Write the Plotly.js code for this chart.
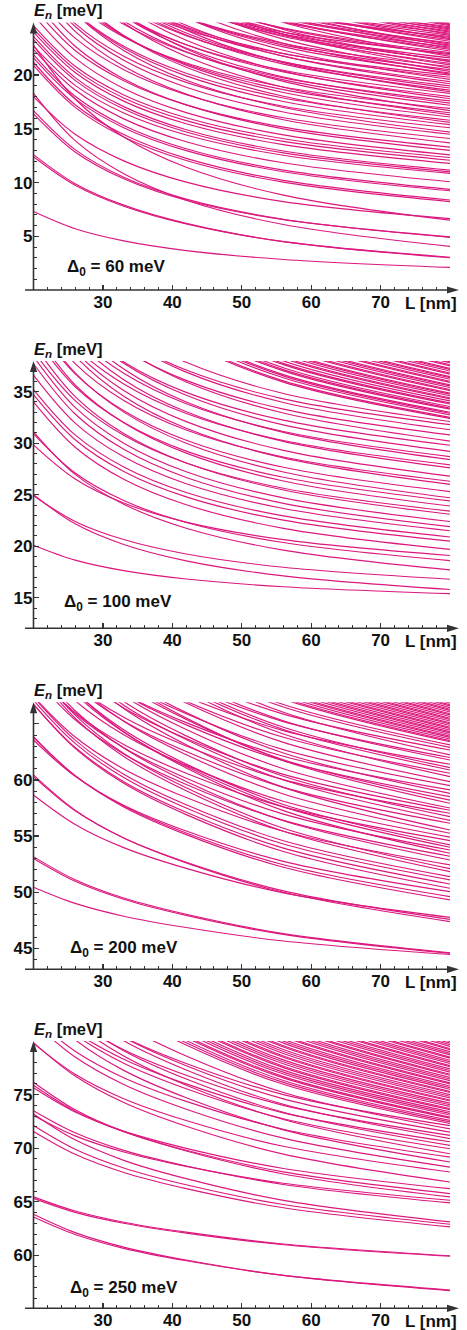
<!DOCTYPE html>
<html><head><meta charset="utf-8">
<script src="https://cdn.plot.ly/plotly-3.0.1.min.js"></script>
<style>html,body{margin:0;padding:0;background:#fff}#plot{width:467px;height:1330px}</style>
</head><body><div id="plot"></div>
<script>
const L = [20, 26, 33, 42, 56, 80];

// Panel 1: Delta0 = 60 meV
const levels60 = [
[7.3,5.70,4.57,3.67,2.84,2.1],[12.6,9.9,7.9,6.2,4.5,3.0],[12.4,9.75,7.8,6.15,4.5,3.05],
[18.3,13.9,10.82,8.36,6.1,4.06],[16.7,13.07,10.5,8.46,6.59,4.9],[16.4,12.85,10.35,8.35,6.55,4.95],
[18.0,14.49,12.02,10.04,8.23,6.65],[22.8,17.78,14.24,11.42,8.83,6.5],[20.9,17.0,14.25,12.06,10.04,8.23],
[21.2,17.25,14.47,12.25,10.21,8.38],[21.6,17.79,15.11,12.97,11.01,9.24],[21.9,18.04,15.32,13.15,11.16,9.37],
[22.4,18.61,15.93,13.8,11.84,10.08],[22.7,19.05,16.48,14.43,12.54,10.85],[23.3,19.51,16.84,14.71,12.76,11.0],
[23.6,19.77,17.07,14.92,12.94,11.16],[24.0,20.24,17.58,15.47,13.53,11.78],[24.3,20.54,17.88,15.77,13.83,12.08],
[24.6,20.82,18.16,16.04,14.08,12.33],[25.58,21.58,18.76,16.51,14.44,12.58],[27.0,22.69,19.65,17.23,15.0,13.0],
[26.3,22.3,19.48,17.23,15.16,13.3],[28.7,24.08,20.83,18.23,15.85,13.7],[27.6,23.44,20.51,18.18,16.03,14.1],
[29.0,24.53,21.39,18.88,16.57,14.5],[30.7,25.77,22.3,19.53,16.99,14.7],[29.1,24.79,21.75,19.33,17.1,15.1],
[30.4,25.78,22.53,19.93,17.55,15.4],[30.3,25.83,22.69,20.18,17.87,15.8],[32.1,27.17,23.7,20.93,18.39,16.1],
[31.5,26.88,23.63,21.03,18.65,16.5],[30.9,26.59,23.55,21.13,18.9,16.9],[33.7,28.62,25.04,22.18,19.56,17.2],
[32.6,27.98,24.73,22.13,19.75,17.6],[34.0,29.07,25.6,22.83,20.29,18.0],[33.3,28.68,25.43,22.83,20.45,18.3],
[35.6,30.36,26.68,23.73,21.03,18.6],[34.5,29.73,26.36,23.68,21.22,19.0],[35.9,30.82,27.24,24.38,21.76,19.4],
[35.3,30.53,27.16,24.48,22.02,19.8],[37.2,31.96,28.28,25.33,22.63,20.2],[36.5,31.57,28.1,25.33,22.79,20.5],
[35.8,31.18,27.93,25.33,22.95,20.8],[38.6,33.21,29.41,26.39,23.6,21.1],[37.4,32.47,29.0,26.23,23.69,21.4],
[37.1,32.33,28.96,26.28,23.82,21.6],[38.9,33.66,29.98,27.03,24.33,21.9],[38.1,33.17,29.7,26.93,24.39,22.1],
[40.4,34.86,30.95,27.84,24.97,22.4],[39.1,34.02,30.44,27.58,24.96,22.6],[39.8,34.56,30.88,27.93,25.23,22.8],
[39.0,34.07,30.6,27.83,25.29,23.0],[41.3,35.76,31.85,28.74,25.87,23.3],[40.0,34.92,31.34,28.48,25.86,23.5],
[41.2,35.81,32.01,28.99,26.2,23.7],[39.9,34.97,31.5,28.73,26.19,23.9],[42.1,36.56,32.65,29.54,26.67,24.1],
[41.3,36.06,32.38,29.43,26.73,24.3],[41.0,35.92,32.34,29.48,26.86,24.5],[42.7,37.16,33.25,30.14,27.27,24.7],
[34.0,29.69,26.65,24.23,22.0,20.0],[40.3,34.45,30.33,27.04,24.02,21.3],[36.0,31.69,28.65,26.23,24.0,22.0],
[41.9,36.05,31.93,28.64,25.62,22.9],[37.6,33.29,30.25,27.83,25.6,23.6],[43.4,37.55,33.43,30.14,27.12,24.4],
[38.85,34.54,31.5,29.08,26.85,24.85],
[32.6,27.36,23.68,20.73,18.03,15.6],[34.3,28.76,24.85,21.74,18.87,16.3],[35.7,29.85,25.73,22.44,19.42,16.7],
[34.4,29.16,25.48,22.53,19.83,17.4],[35.8,30.26,26.35,23.24,20.37,17.8],[37.45,31.6,27.48,24.19,21.17,18.45],
[35.8,30.56,26.88,23.93,21.23,18.8],[37.2,31.66,27.75,24.64,21.77,19.2],[38.6,32.75,28.63,25.34,22.32,19.6],
[40.1,33.94,29.6,26.14,22.96,20.1],[41.35,34.88,30.33,26.69,23.35,20.35],[42.65,35.87,31.1,27.29,23.8,20.65],
[40.95,34.79,30.45,26.99,23.81,20.95],[42.25,35.78,31.23,27.59,24.25,21.25],[43.75,36.97,32.2,28.39,24.9,21.75],
[42.25,36.09,31.75,28.29,25.11,22.25],[43.5,37.03,32.48,28.84,25.5,22.5],[44.7,37.92,33.15,29.34,25.85,22.7],
[43.15,36.99,32.65,29.19,26.01,23.15],[44.4,37.93,33.38,29.74,26.4,23.4],[45.8,39.02,34.25,30.44,26.95,23.8],
[44.0,37.84,33.5,30.04,26.86,24.0],[45.2,38.73,34.18,30.54,27.2,24.2],[46.6,39.82,35.05,31.24,27.75,24.6],
[44.75,38.59,34.25,30.79,27.61,24.75]
];

// Panel 2: Delta0 = 100 meV
const levels100 = [
[20.1,18.65,17.63,16.82,16.07,15.4],[25.0,22.17,20.17,18.58,17.12,15.8],[24.9,22.41,20.65,19.25,17.96,16.8],
[31.1,26.97,24.07,21.75,19.62,17.7],[30.9,27.11,24.44,22.31,20.36,18.6],[29.84,26.53,24.2,22.34,20.64,19.1],
[34.0,29.6,26.49,24.02,21.74,19.7],[34.7,30.33,27.25,24.79,22.53,20.5],[35.2,30.8,27.69,25.22,22.94,20.9],
[36.6,31.95,28.67,26.06,23.66,21.5],[37.7,32.83,29.4,26.67,24.16,21.9],[38.4,33.47,30.0,27.23,24.69,22.4],
[39.6,34.52,30.94,28.08,25.46,23.1],[38.9,34.13,30.76,28.08,25.62,23.4],[40.9,35.66,31.98,29.03,26.33,23.9],
[40.4,35.47,32.0,29.23,26.69,24.4],[42.2,36.81,33.01,29.99,27.2,24.7],[41.8,36.72,33.14,30.28,27.66,25.3],
[44.0,38.46,34.55,31.44,28.57,26.0],[42.8,37.72,34.14,31.28,28.66,26.3],[44.3,38.91,35.11,32.09,29.3,26.8],
[45.6,40.06,36.15,33.04,30.17,27.6],[44.4,39.32,35.74,32.88,30.26,27.9],[46.9,41.2,37.19,33.99,31.05,28.4],
[45.7,40.46,36.78,33.83,31.13,28.7],[47.2,41.66,37.75,34.64,31.77,29.2],[46.8,41.56,37.88,34.93,32.23,29.8],
[49.2,43.35,39.23,35.94,32.92,30.2],[48.3,42.91,39.11,36.09,33.3,30.8],[49.8,44.1,40.09,36.89,33.95,31.3],
[49.3,43.91,40.11,37.09,34.3,31.8],[51.1,45.25,41.13,37.84,34.82,32.1],
[57.0,49.42,44.09,39.83,35.92,32.4],[57.25,49.63,44.26,39.97,36.04,32.5],[57.88,50.14,44.69,40.34,36.34,32.75],
[58.25,50.44,44.94,40.56,36.53,32.9],[58.5,50.65,45.11,40.7,36.65,33.0],[59.25,51.26,45.63,41.14,37.01,33.3],
[59.5,51.46,45.8,41.28,37.13,33.4],[59.88,51.77,46.06,41.5,37.32,33.55],[60.5,52.28,46.48,41.86,37.62,33.8],
[60.75,52.48,46.65,42.01,37.74,33.9],[61.25,52.89,47.0,42.3,37.98,34.1],[61.75,53.3,47.34,42.59,38.23,34.3],
[62.0,53.5,47.51,42.74,38.35,34.4],[62.5,53.91,47.85,43.03,38.59,34.6],[62.88,54.22,48.11,43.25,38.77,34.75],
[63.13,54.42,48.28,43.39,38.89,34.85],[63.75,54.93,48.71,43.75,39.2,35.1],[64.0,55.13,48.88,43.9,39.32,35.2],
[64.5,55.54,49.22,44.19,39.56,35.4],[64.88,55.85,49.48,44.41,39.74,35.55],[65.13,56.05,49.65,44.55,39.87,35.65],
[65.75,56.56,50.08,44.91,40.17,35.9],[66.0,56.76,50.25,45.06,40.29,36.0],[66.5,57.17,50.59,45.35,40.53,36.2],
[66.88,57.48,50.85,45.57,40.72,36.35],[67.13,57.68,51.02,45.72,40.84,36.45],[67.75,58.19,51.45,46.08,41.14,36.7],
[68.0,58.39,51.62,46.22,41.26,36.8],[68.5,58.8,51.96,46.51,41.5,37.0],[68.88,59.11,52.22,46.73,41.69,37.15],
[69.13,59.31,52.39,46.88,41.81,37.25],[69.75,59.82,52.82,47.24,42.11,37.5],[70.0,60.02,52.99,47.38,42.23,37.6],
[70.5,60.43,53.33,47.68,42.48,37.8],[70.75,60.63,53.5,47.82,42.6,37.9]
];

// Panel 3: Delta0 = 200 meV
const levels200 = [
[50.44,49.0,47.86,46.85,45.65,44.45],[53.17,51.11,49.48,48.03,46.31,44.6],[53.0,50.97,49.37,47.93,46.24,44.55],
[60.45,57.31,54.83,52.61,49.99,47.38],[60.3,57.25,54.83,52.67,50.12,47.58],[58.66,56.04,53.97,52.12,49.94,47.76],
[63.86,60.37,57.6,55.13,52.22,49.31],[63.8,60.39,57.69,55.28,52.44,49.6],[63.56,60.32,57.75,55.45,52.75,50.05],
[66.75,62.81,59.7,56.91,53.63,50.35],[66.73,62.89,59.85,57.13,53.93,50.73],[67.39,63.55,60.51,57.79,54.59,51.39],
[69.83,65.51,62.09,59.03,55.43,51.83],[67.43,63.83,60.98,58.43,55.43,52.43],[70.37,66.17,62.85,59.87,56.37,52.87],
[72.47,67.91,64.3,61.07,57.27,53.47],[69.76,65.92,62.88,60.16,56.96,53.76],[72.21,67.89,64.47,61.41,57.81,54.21],
[69.6,66.0,63.15,60.6,57.6,54.6],[72.75,68.55,65.23,62.25,58.75,55.25],[74.54,69.98,66.37,63.14,59.34,55.54],
[72.14,68.3,65.26,62.54,59.34,56.14],[74.73,70.41,66.99,63.93,60.33,56.73],[72.03,68.43,65.58,63.03,60.03,57.03],
[75.0,70.8,67.48,64.5,61.0,57.5],[76.92,72.36,68.75,65.52,61.72,57.92],[74.51,70.67,67.63,64.91,61.71,58.51],
[76.8,72.48,69.06,66.0,62.4,58.8],[74.11,70.51,67.66,65.11,62.11,59.11],[77.35,73.15,69.83,66.85,63.35,59.85],
[79.3,74.74,71.13,67.9,64.1,60.3],[76.6,72.76,69.72,67.0,63.8,60.6],[78.89,74.57,71.15,68.09,64.49,60.89],
[76.4,72.8,69.95,67.4,64.4,61.4],[79.28,75.08,71.76,68.78,65.28,61.78],[81.23,76.67,73.06,69.83,66.03,62.23],
[78.67,74.83,71.79,69.07,65.87,62.67],[81.12,76.8,73.38,70.32,66.72,63.12],
[67.1,63.26,60.22,57.5,54.3,51.1],[70.1,65.78,62.36,59.3,55.7,52.1],[69.2,65.36,62.32,59.6,56.4,53.2],
[72.0,67.68,64.26,61.2,57.6,54.0],[70.9,67.06,64.02,61.3,58.1,54.9],[74.4,70.08,66.66,63.6,60.0,56.4],
[73.3,69.46,66.42,63.7,60.5,57.3],[76.2,71.88,68.46,65.4,61.8,58.2],[75.5,71.66,68.62,65.9,62.7,59.5],
[79.1,74.78,71.36,68.3,64.7,61.1],[78.0,74.16,71.12,68.4,65.2,62.0],[80.9,76.58,73.16,70.1,66.5,62.9],
[82.4,77.84,74.23,71.0,67.2,63.4],[82.62,78.03,74.4,71.15,67.32,63.5],[82.95,78.32,74.65,71.37,67.51,63.65],
[83.28,78.6,74.9,71.59,67.7,63.8],[83.5,78.8,75.07,71.74,67.82,63.9],[83.83,79.08,75.32,71.96,68.01,64.05],
[84.16,79.37,75.58,72.18,68.19,64.2],[84.38,79.56,75.75,72.33,68.32,64.3],[84.71,79.85,76.0,72.55,68.5,64.45],
[85.04,80.13,76.25,72.78,68.69,64.6],[85.26,80.33,76.42,72.92,68.81,64.7],[85.59,80.61,76.67,73.15,69.0,64.85],
[85.92,80.9,76.92,73.37,69.18,65.0],[86.14,81.09,77.09,73.52,69.31,65.1],[86.47,81.38,77.35,73.74,69.49,65.25],
[86.8,81.66,77.6,73.96,69.68,65.4],[87.02,81.86,77.77,74.11,69.8,65.5],[87.35,82.14,78.02,74.33,69.99,65.65],
[87.68,82.43,78.27,74.55,70.18,65.8],[87.9,82.62,78.44,74.7,70.3,65.9],[88.23,82.91,78.69,74.92,70.49,66.05],
[88.56,83.19,78.95,75.14,70.67,66.2],[88.78,83.38,79.11,75.29,70.8,66.3],[89.11,83.67,79.37,75.51,70.98,66.45],
[89.44,83.96,79.62,75.74,71.17,66.6],[89.66,84.15,79.79,75.88,71.29,66.7],[89.99,84.44,80.04,76.11,71.48,66.85]
];

// Panel 4: Delta0 = 250 meV
const levels250 = [
[63.84,62.13,60.78,59.57,58.14,56.72],[63.58,61.95,60.66,59.5,58.14,56.78],[65.46,64.14,63.1,62.17,61.07,59.97],
[65.32,64.02,63.0,62.08,61.0,59.92],[71.56,69.43,67.74,66.23,64.45,62.67],[72.12,69.91,68.16,66.59,64.75,62.91],
[73.2,70.78,68.87,67.16,65.14,63.13],[73.5,71.44,69.8,68.34,66.62,64.9],[73.05,71.15,69.65,68.31,66.73,65.15],
[76.16,73.59,71.56,69.74,67.6,65.46],[75.87,73.45,71.53,69.81,67.79,65.77],[75.63,73.37,71.59,69.99,68.11,66.23],
[79.85,76.73,74.26,72.05,69.45,66.85],[79.78,76.9,74.62,72.58,70.18,67.78],[81.74,78.5,75.94,73.64,70.94,68.24],
[83.71,80.11,77.26,74.71,71.71,68.71],[82.17,79.05,76.58,74.37,71.77,69.17],[85.48,81.64,78.6,75.88,72.68,69.48],
[83.95,80.59,77.93,75.55,72.75,69.95],[85.76,82.04,79.1,76.46,73.36,70.26],[84.1,80.86,78.3,76.0,73.3,70.6],
[86.9,83.06,80.02,77.3,74.1,70.9],[85.2,81.84,79.18,76.8,74.0,71.2],[87.0,83.28,80.34,77.7,74.6,71.5],
[88.8,84.72,81.49,78.6,75.2,71.8],[86.6,83.12,80.37,77.9,75.0,72.1],
[90.6,86.21,82.73,79.62,75.96,72.3],[90.9,86.47,82.97,79.83,76.14,72.45],[91.2,86.74,83.2,80.04,76.32,72.6],
[91.6,87.09,83.52,80.32,76.56,72.8],[91.8,87.26,83.67,80.46,76.68,72.9],[92.2,87.62,83.99,80.74,76.92,73.1],
[92.5,87.88,84.22,80.95,77.1,73.25],[92.8,88.14,84.46,81.16,77.28,73.4],[93.2,88.5,84.77,81.44,77.52,73.6],
[93.4,88.67,84.93,81.58,77.64,73.7],[93.8,89.02,85.24,81.86,77.88,73.9],[94.1,89.29,85.48,82.07,78.06,74.05],
[94.4,89.55,85.71,82.28,78.24,74.2],[94.8,89.9,86.03,82.56,78.48,74.4],[95.0,90.08,86.19,82.7,78.6,74.5],
[95.4,90.43,86.5,82.98,78.84,74.7],[95.7,90.7,86.73,83.19,79.02,74.85],[96.0,90.96,86.97,83.4,79.2,75.0],
[96.4,91.31,87.28,83.68,79.44,75.2],[96.6,91.49,87.44,83.82,79.56,75.3],[97.0,91.84,87.76,84.1,79.8,75.5],
[97.3,92.1,87.99,84.31,79.98,75.65],[97.6,92.37,88.23,84.52,80.16,75.8],[98.0,92.72,88.54,84.8,80.4,76.0],
[98.2,92.9,88.7,84.94,80.52,76.1],[98.6,93.25,89.01,85.22,80.76,76.3],[98.9,93.51,89.25,85.43,80.94,76.45],
[99.2,93.78,89.48,85.64,81.12,76.6],[99.6,94.13,89.8,85.92,81.36,76.8],[99.8,94.3,89.95,86.06,81.48,76.9],
[100.2,94.66,90.27,86.34,81.72,77.1],[100.5,94.92,90.5,86.55,81.9,77.25],[100.8,95.18,90.74,86.76,82.08,77.4],
[101.2,95.54,91.05,87.04,82.32,77.6],[101.4,95.71,91.21,87.18,82.44,77.7],[101.8,96.06,91.52,87.46,82.68,77.9],
[102.1,96.33,91.76,87.67,82.86,78.05],[102.4,96.59,91.99,87.88,83.04,78.2],[102.8,96.94,92.31,88.16,83.28,78.4],
[103.0,97.12,92.47,88.3,83.4,78.5],[103.4,97.47,92.78,88.58,83.64,78.7],[103.7,97.74,93.01,88.79,83.82,78.85],
[104.0,98.0,93.25,89.0,84.0,79.0],[104.4,98.35,93.56,89.28,84.24,79.2],[104.6,98.53,93.72,89.42,84.36,79.3],
[105.0,98.88,94.04,89.7,84.6,79.5],[105.3,99.14,94.27,89.91,84.78,79.65],[105.6,99.41,94.51,90.12,84.96,79.8],
[105.9,99.67,94.74,90.33,85.14,79.95]
];

// Tick values and labels
const xTicks = [30, 40, 50, 60, 70];
const yTicks60 = [5, 10, 15, 20];
const yTicks100 = [15, 20, 25, 30, 35];
const yTicks200 = [45, 50, 55, 60, 65];
const yTickText200 = ['45', '50', '55', '60', ''];
const yTicks250 = [60, 65, 70, 75];
const deltaLabels = ['60 meV', '100 meV', '200 meV', '250 meV'];

// ---------- layout ----------
const W = 467, H = 1330;
const COLOR = 'rgb(220,24,126)';
const AX = '#333333';
const FONT = 'Liberation Sans, Arial, Helvetica, sans-serif';
const xl = 33.5, xr = 450;
const panels = [
  {lv: levels60,  yr: [0, 24.9],      top: 22.5,  bot: 290,    tv: yTicks60,  tt: null, dx: 65, dy: 268},
  {lv: levels100, yr: [12.04, 37.97], top: 361,   bot: 628.3,  tv: yTicks100, tt: null, dx: 62, dy: 603},
  {lv: levels200, yr: [43.13, 66.92], top: 702.3, bot: 969.3,  tv: yTicks200, tt: yTickText200, dx: 68, dy: 949},
  {lv: levels250, yr: [55.07, 80.0],  top: 1041,  bot: 1308.3, tv: yTicks250, tt: null, dx: 68, dy: 1289}
];
const px = x => x / W, py = y => 1 - y / H;

const data = [], shapes = [], annotations = [];
const layout = {
  width: W, height: H, margin: {l: 0, r: 0, t: 0, b: 0},
  paper_bgcolor: '#fff', plot_bgcolor: '#fff', showlegend: false,
  font: {family: FONT, size: 16, color: '#111'}
};
const tickfont = {family: FONT, size: 17, color: '#111', weight: 'bold'};

panels.forEach((p, i) => {
  const k = i === 0 ? '' : String(i + 1);
  p.lv.forEach(v => data.push({
    type: 'scatter', mode: 'lines', x: L, y: v,
    xaxis: 'x' + k, yaxis: 'y' + k, hoverinfo: 'skip',
    line: {color: COLOR, width: 1.15, shape: 'spline', smoothing: 1}
  }));
  layout['xaxis' + k] = {
    domain: [px(xl), px(xr)], anchor: 'y' + k, range: [20, 80],
    tickmode: 'array', tickvals: xTicks, ticks: 'inside', ticklen: 5, tickwidth: 1.3, tickcolor: AX,
    minor: {ticks: 'inside', ticklen: 3, tickwidth: 1, tickcolor: AX, dtick: 2, tick0: 20, showgrid: false},
    showline: false, showgrid: false, zeroline: false, tickfont: tickfont, fixedrange: true
  };
  const ya = {
    domain: [py(p.bot), py(p.top)], anchor: 'x' + k, range: p.yr,
    tickmode: 'array', tickvals: p.tv, ticks: 'inside', ticklen: 5, tickwidth: 1.3, tickcolor: AX,
    minor: {ticks: 'inside', ticklen: 3, tickwidth: 1, tickcolor: AX, dtick: 1, tick0: 0, showgrid: false},
    showline: false, showgrid: false, zeroline: false, tickfont: tickfont, fixedrange: true
  };
  if (p.tt) ya.ticktext = p.tt;
  layout['yaxis' + k] = ya;

  // axes with arrow heads
  shapes.push({type: 'line', xref: 'paper', yref: 'paper', x0: px(25), x1: px(449), y0: py(p.bot), y1: py(p.bot), line: {color: AX, width: 1.6}});
  shapes.push({type: 'line', xref: 'paper', yref: 'paper', x0: px(xl), x1: px(xl), y0: py(p.bot), y1: py(p.top + 8), line: {color: AX, width: 1.6}});
  shapes.push({type: 'path', xref: 'paper', yref: 'paper', fillcolor: AX, line: {width: 0},
    path: `M ${px(459)} ${py(p.bot)} L ${px(447)} ${py(p.bot - 3.6)} L ${px(447)} ${py(p.bot + 3.6)} Z`});
  shapes.push({type: 'path', xref: 'paper', yref: 'paper', fillcolor: AX, line: {width: 0},
    path: `M ${px(xl)} ${py(p.top)} L ${px(xl - 3.6)} ${py(p.top + 11)} L ${px(xl + 3.6)} ${py(p.top + 11)} Z`});

  annotations.push({xref: 'paper', yref: 'paper', x: px(31.5), y: py(p.top - 11), xanchor: 'left', yanchor: 'middle',
    showarrow: false, text: '<b><i>E</i><sub><i>n</i></sub> [meV]</b>', font: {family: FONT, size: 16.5, color: '#111'}});
  annotations.push({xref: 'paper', yref: 'paper', x: px(459), y: py(p.bot + 13), xanchor: 'right', yanchor: 'middle',
    showarrow: false, text: '<b>L [nm]</b>', font: {family: FONT, size: 17, color: '#111'}});
  annotations.push({xref: 'paper', yref: 'paper', x: px(p.dx), y: py(p.dy), xanchor: 'left', yanchor: 'middle',
    showarrow: false, text: '<b>Δ<sub>0</sub> = ' + deltaLabels[i] + '</b>', font: {family: FONT, size: 17, color: '#111'}});
});
layout.shapes = shapes;
layout.annotations = annotations;

Plotly.newPlot('plot', data, layout, {staticPlot: true, displayModeBar: false});
</script>
</body></html>
